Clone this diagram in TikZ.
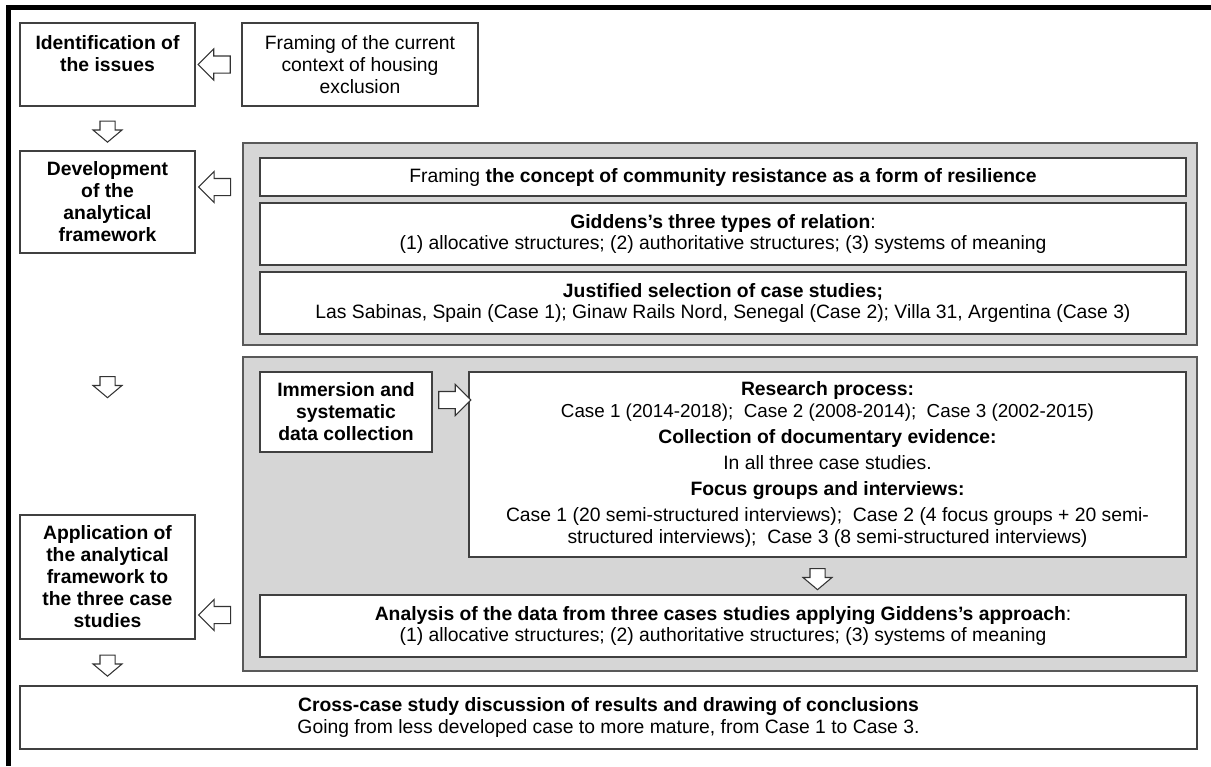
\documentclass[tikz,border=0pt]{standalone}
\usepackage{fontspec}
\setmainfont{Liberation Sans}
\usetikzlibrary{shapes.arrows}

\newcommand\lefttxt{\fontsize{11}{12.5}\selectfont}
\newcommand\paneltxt{\fontsize{11}{12.5}\selectfont}

\tikzset{
  box/.style={rectangle, draw=black!75, line width=.8pt, fill=white, align=center, inner sep=0pt},
  panel/.style={rectangle, draw=black!65, line width=1pt, fill=black!16, inner sep=0pt},
  hollow/.style={single arrow, draw=black!80, fill=white, line width=.6pt, inner xsep=0pt, single arrow head extend=.14cm},
  sidearrow/.style={draw=none, to path={(\tikztostart) -- (\tikztotarget) node[midway, sloped, allow upside down, hollow, inner ysep=.16cm, minimum height=.64cm, minimum width=.6cm] {}}},
  downarrow/.style={draw=none, to path={(\tikztostart) -- (\tikztotarget) node[midway, sloped, allow upside down, hollow, inner ysep=.14cm, minimum height=.42cm, minimum width=.56cm, single arrow tip angle=100] {}}}
}

\begin{document}
\begin{tikzpicture}

  \useasboundingbox (0,0) rectangle (24.22,-15.32);
  \draw[line width=2.6pt] (0.17,-15.32) -- (0.17,-0.146) -- (24.22,-0.146);

  % grey panels
  \begin{scope}[every node/.style={panel}]
    \node[minimum width=19.08cm, minimum height=4.04cm] (4) at (14.4,-4.88) {};
    \node[minimum width=19.08cm, minimum height=6.28cm] (8) at (14.4,-10.28) {};
  \end{scope}

  % steps on the left
  \begin{scope}[every node/.style={box, font=\lefttxt\bfseries}]
    \node[minimum width=3.5cm, minimum height=1.66cm] (1) at (2.15,-1.29) {Identification of\\the issues\\\mbox{}};
    \node[minimum width=3.5cm, minimum height=2.04cm] (3) at (2.15,-4.04) {Development\\of the\\analytical\\framework};
    \node[minimum width=3.44cm, minimum height=1.6cm] (9) at (6.92,-8.24) {Immersion and\\systematic\\data collection};
    \node[minimum width=3.5cm, minimum height=2.48cm] (12) at (2.15,-11.54) {Application of\\the analytical\\framework to\\the three case\\studies};
  \end{scope}

  \node[box, font=\lefttxt, minimum width=4.72cm, minimum height=1.66cm] (2) at (7.2,-1.29) {Framing of the current\\context of housing\\exclusion};

  % contents of the panels
  \begin{scope}[every node/.style={box, font=\paneltxt, minimum width=18.52cm}]
    \node[minimum height=.76cm] (5) at (14.46,-3.54) {Framing \textbf{the concept of community resistance as a form of resilience}};
    \node[minimum height=1.24cm] (6) at (14.46,-4.68) {\textbf{Giddens’s three types of relation}:\\(1) allocative structures; (2) authoritative structures; (3) systems of meaning};
    \node[minimum height=1.24cm] (7) at (14.46,-6.06) {\textbf{Justified selection of case studies;}\\Las Sabinas, Spain (Case 1); Ginaw Rails Nord, Senegal (Case 2); Villa 31, Argentina (Case 3)};
    \node[minimum height=1.24cm] (11) at (14.46,-12.52) {\textbf{Analysis of the data from three cases studies applying Giddens’s approach}:\\(1) allocative structures; (2) authoritative structures; (3) systems of meaning};
    \node[minimum width=14.34cm, minimum height=3.7cm] (10) at (16.55,-9.29) {\textbf{Research process:}\\
      {\fontsize{10.7}{12.5}\selectfont Case 1 (2014-2018);\ \ Case 2 (2008-2014);\ \ Case 3 (2002-2015)}\\[2.3pt]
      \textbf{Collection of documentary evidence:}\\[2.3pt]
      In all three case studies.\\[2.3pt]
      \textbf{Focus groups and interviews:}\\[2.3pt]
      Case 1 (20 semi-structured interviews);\ \ Case 2 (4 focus groups + 20 semi-\\
      structured interviews);\ \ Case 3 (8 semi-structured interviews)};
    \node[minimum width=23.54cm, minimum height=1.26cm] (13) at (12.17,-14.35) {\textbf{Cross-case study discussion of results and drawing of conclusions}\\Going from less developed case to more mature, from Case 1 to Case 3.};
  \end{scope}

  % hollow arrows
  \path (2) edge[sidearrow] (1);
  \path (1) edge[downarrow] (3);
  \path ([yshift=.3cm]3.east -| 4.west) edge[sidearrow] ([yshift=.3cm]3.east);
  \path (3) edge[downarrow] (12);
  \path ([yshift=.24cm]9.east) edge[sidearrow] ([yshift=.24cm]9.east -| 10.west);
  \path ([xshift=-.2cm]10.south) edge[downarrow] ([xshift=-.2cm]10.south |- 11.north);
  \path ([yshift=-.76cm]12.east -| 8.west) edge[sidearrow] ([yshift=-.76cm]12.east);
  \path (12.south) edge[downarrow] (12.south |- 13.north);

\end{tikzpicture}
\end{document}
